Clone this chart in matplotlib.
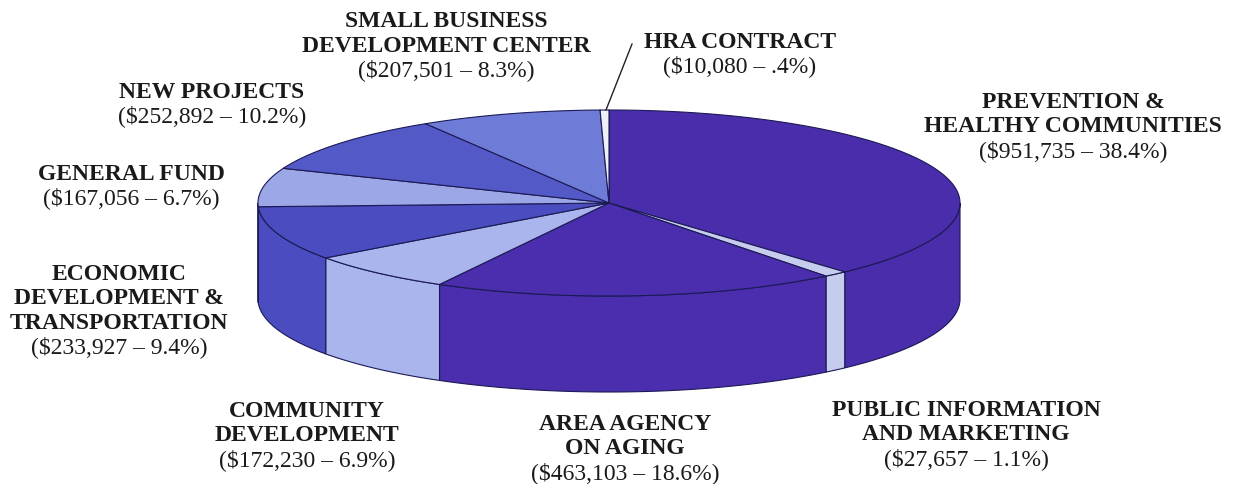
"""Budget pie chart, drawn as a flat 3D ellipse in pixel space."""

import matplotlib
matplotlib.use("Agg")
import matplotlib.pyplot as plt
import numpy as np
from matplotlib.patches import Polygon

# slices, clockwise from 12 o'clock
names = [
    "PREVENTION &\nHEALTHY COMMUNITIES",
    "PUBLIC INFORMATION\nAND MARKETING",
    "AREA AGENCY\nON AGING",
    "COMMUNITY\nDEVELOPMENT",
    "ECONOMIC\nDEVELOPMENT &\nTRANSPORTATION",
    "GENERAL FUND",
    "NEW PROJECTS",
    "SMALL BUSINESS\nDEVELOPMENT CENTER",
    "HRA CONTRACT",
]
amounts = [951735, 27657, 463103, 172230, 233927, 167056, 252892, 207501, 10080]
pcts = ["38.4", "1.1", "18.6", "6.9", "9.4", "6.7", "10.2", "8.3", ".4"]
colors = ["#4a2daa", "#c6ccee", "#4a2eae", "#a9b5ec", "#4a4cc0",
          "#9ba7e7", "#5459c8", "#6f7cd7", "#eef0fa"]

# label anchors: centre x, baseline of first line (pixels)
label_pos = [(1073, 108), (966, 416), (625, 430), (307, 417), (119, 280),
             (131, 180), (212, 98), (446, 27), (740, 48)]

W, H = 1233, 485
cx, cy, a, b, depth = 609, 204, 351, 93, 96
edge = "#1c1a55"
step = 24.5


def pt(t, dy=0.0):
    r = np.radians(t)
    return cx + a * np.cos(r), cy - b * np.sin(r) + dy


fig = plt.figure(figsize=(W / 100, H / 100), dpi=100)
ax = fig.add_axes([0, 0, 1, 1])
ax.set_xlim(0, W)
ax.set_ylim(H, 0)
ax.axis("off")

fracs = np.array(amounts) / sum(amounts)
starts = 90 - 360 * np.concatenate([[0], np.cumsum(fracs)[:-1]])
ends = starts - 360 * fracs

# side walls (front half only: angles between -180 and 0)
for s, e, c in zip(starts, ends, colors):
    t1, t2 = min(s, 0), max(e, -180)
    if t1 <= t2:
        continue
    ts = np.linspace(t1, t2, 80)
    top = [pt(t) for t in ts]
    bot = [pt(t, depth) for t in ts[::-1]]
    ax.add_patch(Polygon(top + bot, closed=True, fc=c, ec=edge, lw=0.8))

# top face
for s, e, c in zip(starts, ends, colors):
    ts = np.linspace(s, e, 120)
    verts = [(cx, cy)] + [pt(t) for t in ts]
    ax.add_patch(Polygon(verts, closed=True, fc=c, ec=edge, lw=0.8,
                         joinstyle="round"))

# leader line for the thin HRA slice
ax.plot([632, 606], [45, 111], color="#222222", lw=1.0)

font = "Liberation Serif"
for name, amt, p, (x, y0) in zip(names, amounts, pcts, label_pos):
    lines = name.split("\n")
    for i, ln in enumerate(lines):
        ax.text(x, y0 + i * step, ln, ha="center", va="baseline",
                family=font, fontweight="bold", fontsize=17, color="#1a1a1a")
    ax.text(x, y0 + len(lines) * step, f"(${amt:,} \u2013 {p}%)",
            ha="center", va="baseline", family=font, fontsize=17,
            color="#1a1a1a")

fig.savefig("out.png", dpi=100)
